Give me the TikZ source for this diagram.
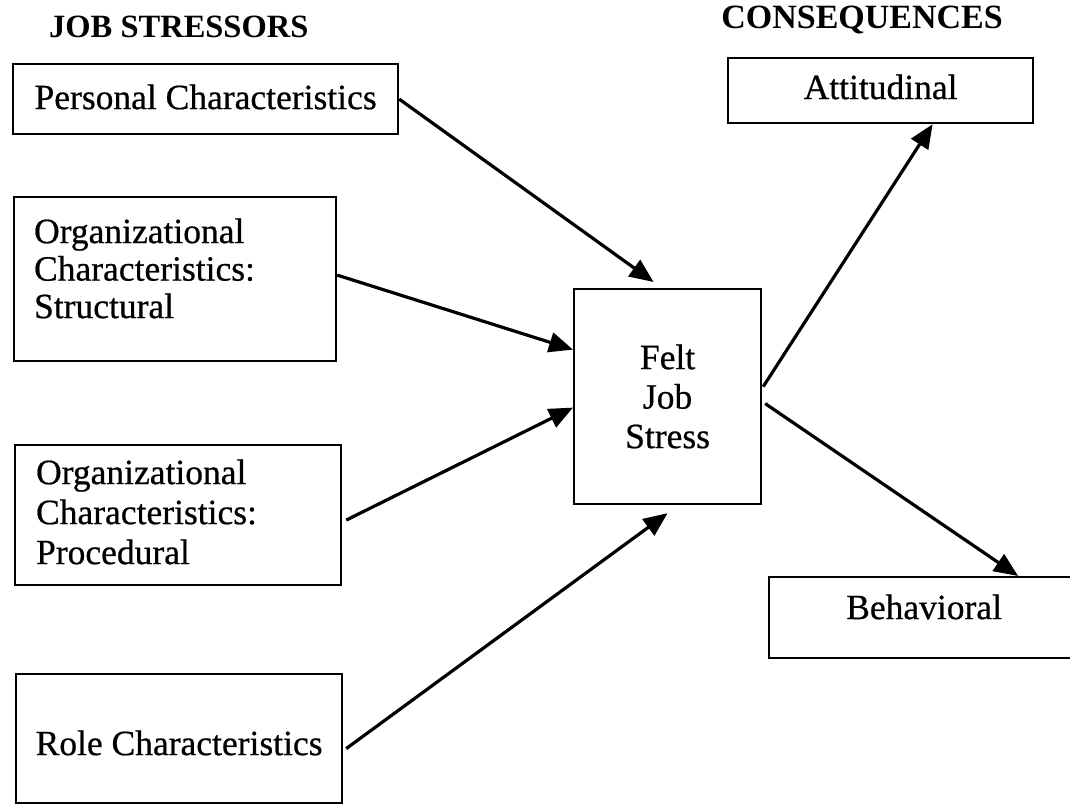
\documentclass[tikz,border=0pt]{standalone}
\usepackage{fontspec}
\setmainfont{Liberation Serif}[UprightFeatures={FakeBold=0.6}]
\usetikzlibrary{arrows.meta,calc}

% Text block of a box: [line skip]{width}{height}{first baseline}{alignment}{text}
\newcommand\cellbox[6][39pt]{%
  \parbox[c][#3][t]{#2}{#5\baselineskip=#1\relax\rule{0pt}{#4}#6\par}}

\tikzset{
  box/.style={draw, line width=2.2pt, inner sep=0pt, anchor=north west, fill=white},
  heading/.style={font=\fontsize{32.5}{36}\selectfont\bfseries, inner sep=0pt},
  arr/.style={line width=3.2pt, -{Triangle[length=24pt,width=20pt]}},
}

\begin{document}
\begin{tikzpicture}[x=1pt, y=-1pt, font=\fontsize{35.5}{39}\selectfont]
  \useasboundingbox (0,0) rectangle (1070,803);
  \clip (0,0) rectangle (1070,803);
  \fill[white] (0,0) rectangle (1070,803);

  % column headings
  \node[heading, anchor=base west] (hstress) at (49,37) {JOB STRESSORS};
  \node[heading, font=\fontsize{34}{38}\selectfont\bfseries, anchor=base east]
    (hcons) at (1003,28) {CONSEQUENCES};

  % stressors
  \node[box] (pers) at (12,63)
    {\cellbox{385pt}{70pt}{45pt}{\centering}{Personal Characteristics}};
  \node[box] (str) at (13,196)
    {\cellbox[37.5pt]{322pt}{164pt}{46pt}{\raggedright\leftskip=20pt\relax}%
      {Organizational\\Characteristics:\\Structural}};
  \node[box] (proc) at (14,444)
    {\cellbox[40pt]{326pt}{140pt}{39pt}{\raggedright\leftskip=21pt\relax}%
      {Organizational\\Characteristics:\\Procedural}};
  \node[box] (role) at (15,673)
    {\cellbox{326pt}{129pt}{81pt}{\centering}{Role Characteristics}};

  % felt stress
  \node[box] (felt) at (573,288)
    {\cellbox[39.5pt]{187pt}{215pt}{80pt}{\centering}{Felt\\Job\\Stress}};

  % consequences
  \node[box] (att) at (727,57)
    {\cellbox{305pt}{65pt}{41pt}{\centering}{Attitudinal}};
  \node[box] (beh) at (768,576)
    {\cellbox{310pt}{81pt}{42pt}{\centering}{Behavioral}};

  % influences
  \draw[arr] (pers.east) -- ($(felt.north)+(-14,-6)$);
  \draw[arr] ($(str.east)+(0,-4)$) -- ($(felt.west)+(0,-47)$);
  \draw[arr] ($(proc.east)+(4,5)$) -- ($(felt.west)+(0,11)$);
  \draw[arr] ($(role.east)+(3,10)$) -- ($(felt.south)+(0,8)$);
  \draw[arr] ($(felt.east)+(1,-10)$) -- ($(att.south)+(52,0)$);
  \draw[arr] ($(felt.east)+(3,7)$) -- ($(beh.north)+(94,0)$);
\end{tikzpicture}
\end{document}
